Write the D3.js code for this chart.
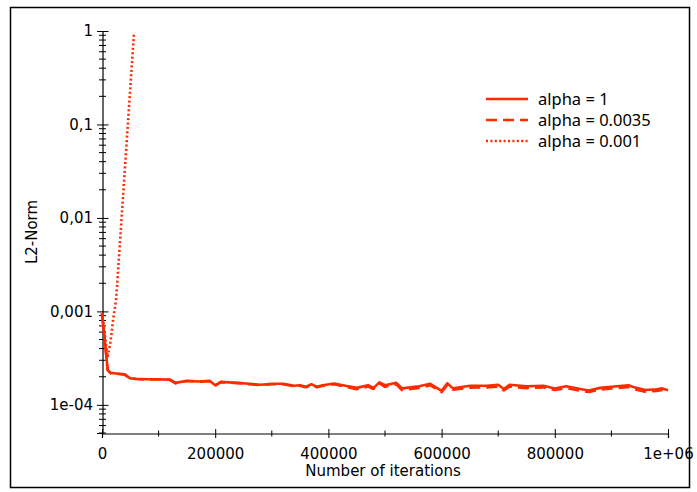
<!DOCTYPE html>
<html>
<head>
<meta charset="utf-8">
<title>L2-Norm</title>
<script src="https://d3js.org/d3.v7.min.js"></script>
<style>
  body { margin: 0; background: #fff; }
  .axis text { font: 15px "DejaVu Sans", sans-serif; fill: #000; }
  .axis path, .axis line { stroke: #000; }
  .label { font: 15px "DejaVu Sans", sans-serif; }
  .legend text { font: 16.5px "Noto Sans", sans-serif; }
</style>
</head>
<body>
<svg width="697" height="492"></svg>
<script>
// iterations shared by alpha = 1 and alpha = 0.0035
var iterations = [0, 5000, 10000, 15000, 30000, 40000, 50000, 60000, 80000, 100000,
  120000, 130000, 150000, 170000, 190000, 200000, 210000, 240000, 260000, 280000,
  300000, 320000, 340000, 350000, 360000, 370000, 380000, 390000, 410000, 430000,
  450000, 470000, 480000, 490000, 500000, 520000, 530000, 560000, 580000, 600000,
  610000, 620000, 650000, 680000, 700000, 710000, 720000, 750000, 780000, 800000,
  820000, 850000, 860000, 880000, 900000, 930000, 940000, 960000, 980000, 990000, 1000000];

var alpha1 = [9.5e-4, 4.9e-4, 2.37e-4, 2.2e-4, 2.15e-4, 2.12e-4, 1.92e-4, 1.9e-4, 1.88e-4, 1.88e-4,
  1.86e-4, 1.72e-4, 1.81e-4, 1.78e-4, 1.81e-4, 1.62e-4, 1.76e-4, 1.72e-4, 1.68e-4, 1.64e-4,
  1.68e-4, 1.68e-4, 1.60e-4, 1.62e-4, 1.56e-4, 1.66e-4, 1.56e-4, 1.62e-4, 1.69e-4, 1.60e-4,
  1.52e-4, 1.62e-4, 1.52e-4, 1.74e-4, 1.62e-4, 1.72e-4, 1.50e-4, 1.58e-4, 1.68e-4, 1.41e-4,
  1.70e-4, 1.50e-4, 1.60e-4, 1.60e-4, 1.64e-4, 1.48e-4, 1.64e-4, 1.58e-4, 1.60e-4, 1.50e-4,
  1.58e-4, 1.46e-4, 1.42e-4, 1.52e-4, 1.56e-4, 1.62e-4, 1.54e-4, 1.44e-4, 1.47e-4, 1.50e-4, 1.43e-4];

var alpha0035 = [9.5e-4, 4.9e-4, 2.35e-4, 2.18e-4, 2.14e-4, 2.1e-4, 1.91e-4, 1.89e-4, 1.87e-4, 1.87e-4,
  1.85e-4, 1.70e-4, 1.80e-4, 1.77e-4, 1.79e-4, 1.60e-4, 1.75e-4, 1.71e-4, 1.66e-4, 1.63e-4,
  1.66e-4, 1.66e-4, 1.58e-4, 1.60e-4, 1.54e-4, 1.64e-4, 1.54e-4, 1.60e-4, 1.66e-4, 1.56e-4,
  1.47e-4, 1.57e-4, 1.48e-4, 1.70e-4, 1.56e-4, 1.66e-4, 1.44e-4, 1.52e-4, 1.62e-4, 1.37e-4,
  1.63e-4, 1.45e-4, 1.53e-4, 1.54e-4, 1.57e-4, 1.43e-4, 1.57e-4, 1.51e-4, 1.54e-4, 1.44e-4,
  1.51e-4, 1.40e-4, 1.37e-4, 1.46e-4, 1.50e-4, 1.55e-4, 1.47e-4, 1.38e-4, 1.41e-4, 1.44e-4, 1.36e-4];

// alpha = 0.001 diverges
var iterations001 = [0, 10000, 15000, 20000, 25000, 30000, 35000, 40000, 45000, 50000, 55000, 56500];
var alpha001 = [9.5e-4, 3.26e-4, 4.72e-4, 8.5e-4, 1.35e-3, 3.83e-3, 1.08e-2, 3.03e-2, 8.73e-2, 0.246, 0.691, 0.96];

var seriesNames = ["alpha = 1", "alpha = 0.0035", "alpha = 0.001"];

var xTicks = [0, 200000, 400000, 600000, 800000, 1000000];
var xTickLabels = ["0", "200000", "400000", "600000", "800000", "1e+06"];
var xMinor = [100000, 300000, 500000, 700000, 900000];
var yTicks = [1e-4, 1e-3, 1e-2, 1e-1, 1];
var yTickLabels = ["1e-04", "0,001", "0,01", "0,1", "1"];

var svg = d3.select("svg");
var red = "#ff2a00";

// frame
svg.append("rect")
  .attr("x", 10.5).attr("y", 7.5)
  .attr("width", 679).attr("height", 480)
  .attr("fill", "none").attr("stroke", "#000").attr("stroke-width", 1.5);

var x = d3.scaleLinear().domain([0, 1000000]).range([102, 668]);
var y = d3.scaleLog().domain([5e-5, 1]).range([433, 31]);

// minor y ticks: 2..9 in each decade plus 5e-5..9e-5
var yMinor = [];
[1e-5, 1e-4, 1e-3, 1e-2, 1e-1].forEach(function (d) {
  for (var k = 2; k <= 9; k++) {
    var v = d * k;
    if (v >= 5e-5 && v < 1) yMinor.push(v);
  }
});

// x axis
var gx = svg.append("g").attr("class", "axis")
  .attr("transform", "translate(0,433.5)")
  .call(d3.axisBottom(x).tickValues(xTicks)
    .tickFormat(function (d, i) { return xTickLabels[i]; })
    .tickSizeOuter(0).tickSize(4.5).tickPadding(10));
gx.selectAll(".tick line").attr("y1", -4.5);
gx.selectAll("path").attr("stroke-width", 1.2);
gx.selectAll(".tick text").attr("dy", "0.71em");
gx.selectAll(".minor").data(xMinor).enter().append("line")
  .attr("x1", function (d) { return x(d); }).attr("x2", function (d) { return x(d); })
  .attr("y1", -3).attr("y2", 3).attr("stroke", "#000");

// y axis
var gy = svg.append("g").attr("class", "axis")
  .attr("transform", "translate(102.5,0)")
  .call(d3.axisLeft(y).tickValues(yTicks)
    .tickFormat(function (d, i) { return yTickLabels[i]; })
    .tickSizeOuter(0).tickSize(5.5).tickPadding(4));
gy.selectAll(".tick line").attr("x1", 6);
gy.selectAll("path").attr("stroke-width", 1.2);
gy.selectAll(".minor").data(yMinor).enter().append("line")
  .attr("y1", function (d) { return y(d); }).attr("y2", function (d) { return y(d); })
  .attr("x1", -3.5).attr("x2", 3.5).attr("stroke", "#000");

// axis titles
svg.append("text").attr("class", "label")
  .attr("x", 383).attr("y", 476).attr("text-anchor", "middle")
  .text("Number of iterations");
svg.append("text").attr("class", "label")
  .attr("transform", "translate(37,232) rotate(-90)")
  .attr("text-anchor", "middle")
  .text("L2-Norm");

// lines
var line = d3.line()
  .x(function (d) { return x(d[0]); })
  .y(function (d) { return y(d[1]); });

var dashes = [null, "11,6", "2,2.4"];
var lines = [
  d3.zip(iterations, alpha1),
  d3.zip(iterations, alpha0035),
  d3.zip(iterations001, alpha001)
];

svg.append("g").selectAll("path")
  .data(lines)
  .enter().append("path")
    .attr("fill", "none")
    .attr("stroke", red)
    .attr("stroke-width", 2.6)
    .attr("stroke-linejoin", "round")
    .attr("stroke-dasharray", function (d, i) { return dashes[i]; })
    .attr("d", line);

// legend
var legend = svg.append("g").attr("class", "legend")
  .selectAll("g").data(seriesNames)
  .enter().append("g")
    .attr("transform", function (d, i) { return "translate(486," + (99 + i * 21) + ")"; });
legend.append("line")
  .attr("x1", 0).attr("x2", 42)
  .attr("stroke", red).attr("stroke-width", 2.6)
  .attr("stroke-dasharray", function (d, i) { return dashes[i]; });
legend.append("text")
  .attr("x", 52).attr("dy", "0.36em")
  .text(function (d) { return d; });
</script>
</body>
</html>
